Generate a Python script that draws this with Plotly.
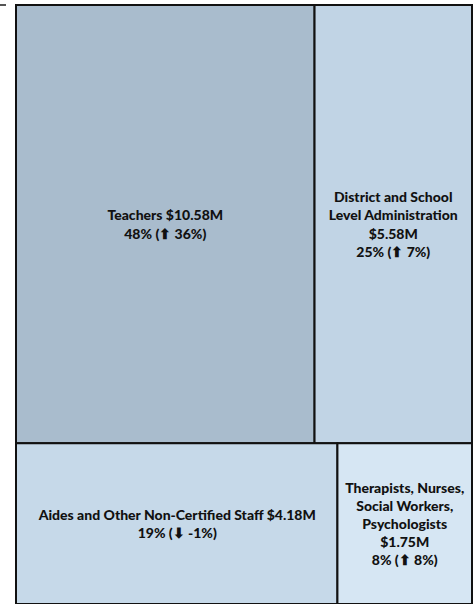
import plotly.graph_objects as go

# ---- data ----
categories = [
    "Teachers",
    "District and School Level Administration",
    "Aides and Other Non-Certified Staff",
    "Therapists, Nurses, Social Workers, Psychologists",
]
# how each category name is wrapped inside its tile
category_display = [
    "Teachers",
    "District and School<br>Level Administration<br>",
    "Aides and Other Non-Certified Staff",
    "Therapists, Nurses,<br>Social Workers,<br>Psychologists<br>",
]
spend_millions = [10.58, 5.58, 4.18, 1.75]
share_pct = [48, 25, 19, 8]
change_pct = [36, 7, -1, 8]
tile_colors = ["#a9bccd", "#c1d4e5", "#c6d9e9", "#d6e6f3"]


def fmt_text(disp, val, share, chg):
    arrow = "\u2B06" if chg >= 0 else "\u2B07"
    sep = "" if disp.endswith("<br>") else " "
    return f"{disp}{sep}${val:.2f}M<br>{share}% ({arrow} {chg}%)"


texts = [fmt_text(d, v, s, c) for d, v, s, c in zip(category_display, spend_millions, share_pct, change_pct)]

fig = go.Figure(
    go.Treemap(
        labels=categories,
        parents=[""] * len(categories),
        values=spend_millions,
        text=texts,
        texttemplate="%{text}",
        textposition="middle center",
        textfont=dict(family="Lato, 'Noto Sans', sans-serif", size=14, color="#111111",
                      weight=900),
        marker=dict(colors=tile_colors, line=dict(color="#111111", width=2),
                    pad=dict(t=0, l=0, r=0, b=0)),
        tiling=dict(packing="squarify", squarifyratio=1.618, pad=0),
        pathbar=dict(visible=False),
        sort=True,
        hoverinfo="skip",
    )
)

fig.update_layout(
    width=476,
    height=604,
    margin=dict(l=16, r=4, t=5, b=0),
    paper_bgcolor="white",
    showlegend=False,
    shapes=[
        dict(type="line", xref="paper", yref="paper", x0=-16 / 456, x1=-10 / 456,
             y0=1.0, y1=1.0, line=dict(color="#555555", width=2)),
    ],
)

fig.write_html("out.html", config={"displayModeBar": False},
               post_script="document.body.style.margin='0';")
